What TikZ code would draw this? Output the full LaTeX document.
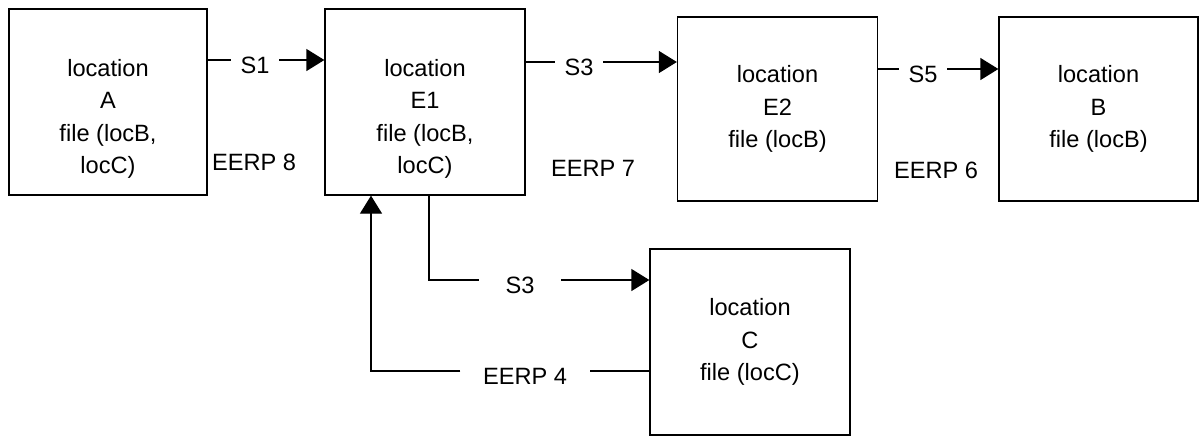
\documentclass[tikz,border=0pt]{standalone}
\usepackage{fontspec}
\setmainfont{Liberation Sans}
\usetikzlibrary{arrows.meta}

\begin{document}
\begin{tikzpicture}[x=0.5pt,y=-0.5pt,line width=0.65pt,
	every node/.style={font=\fontsize{11.8}{16.2}\selectfont},
	loc/.style={draw,line width=0.65pt,minimum width=100pt,minimum height=93pt,inner sep=0pt,align=center},
	lbl/.style={inner ysep=0pt,inner xsep=4.5pt,text height=13pt,text depth=0pt},
	wlbl/.style={lbl,inner xsep=11pt},
	arr/.style={-{Triangle[length=9pt,width=11pt]}}]
			\useasboundingbox (0,0) rectangle (1199,435);
			% locations
			\node[loc,minimum width=99pt] (A) at (108,102) {};
			\node[loc] (E1) at (425,102) {};
			\node[loc,minimum height=92pt] (E2) at (777.5,109) {location\\E2\\file (locB)};
			\node[loc,minimum width=99.5pt,minimum height=92pt] (B) at (1098.5,109) {location\\B\\file (locB)};
			\node[loc] (C) at (750,342) {location\\C\\file (locC)};
			\node[align=center] (Atxt) at (108,119) {location\\A\\file (locB,\\locC)};
			\node[align=center] (E1txt) at (425,119) {location\\E1\\file (locB,\\locC)};
			% labels
			\node[lbl] (s1) at (255,60) {S1};
			\node[lbl] (s3) at (579,62) {S3};
			\node[lbl] (s5) at (923,69) {S5};
			\node[wlbl,inner xsep=13pt] (s3c) at (520,280) {S3};
			\node[wlbl] (eerp4) at (525,371) {EERP 4};
			\node (eerp8) at (254,162) {EERP 8};
			\node (eerp7) at (593,168) {EERP 7};
			\node (eerp6) at (936,170) {EERP 6};
			% connectors
			\draw (A.east |- s1) -- (s1.west);
			\draw[arr] (s1.east) -- (E1.west |- s1);
			\draw (E1.east |- s3) -- (s3.west);
			\draw[arr] (s3.east) -- (E2.west |- s3);
			\draw (E2.east |- s5) -- (s5.west);
			\draw[arr] (s5.east) -- (B.west |- s5);
			\draw ([xshift=2pt]E1.south) |- (s3c.west);
			\draw[arr] (s3c.east) -- (C.west |- s3c);
			\draw (C.west |- eerp4) -- (eerp4.east);
			\draw[arr] (eerp4.west) -| ([xshift=-27pt]E1.south);
		\end{tikzpicture}
\end{document}
